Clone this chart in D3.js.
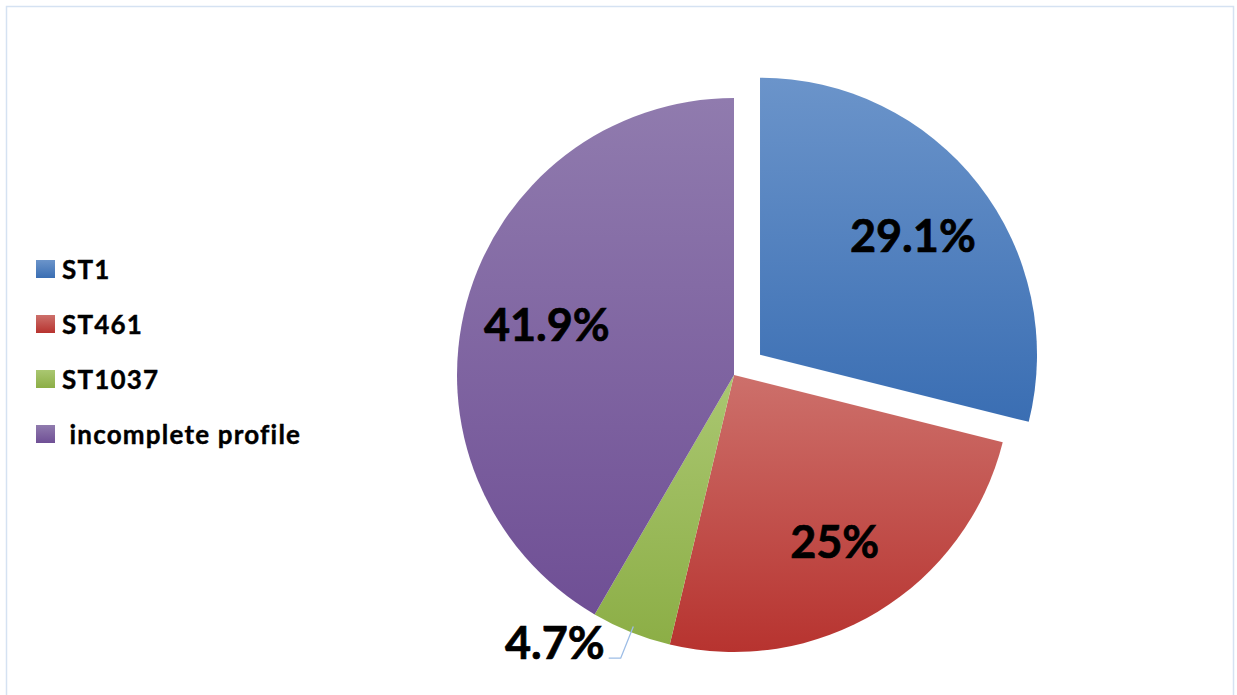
<!DOCTYPE html>
<html>
<head>
<meta charset="utf-8">
<script src="https://cdn.jsdelivr.net/npm/d3@7"></script>
<style>
  html, body { margin: 0; padding: 0; background: #fff; }
  svg { display: block; }
  text { font-family: Lato, "Liberation Sans", sans-serif; font-weight: 700; fill: #000; white-space: pre; }
</style>
</head>
<body>
<svg id="chart" width="1237" height="695"></svg>
<script>
// Sequence types and their shares (percent)
const categories = ["ST1", "ST461", "ST1037", " incomplete profile"];
const shares = [29.1, 25, 4.7, 41.9];
const shareLabels = ["29.1%", "25%", "4.7%", "41.9%"];
// slice fills: [light top, dark bottom]
const fillStops = [
  ["#6b94ca", "#3a6eb3"],
  ["#cd706b", "#b7332f"],
  ["#aac771", "#8cae46"],
  ["#907bae", "#6f4f95"]
];
const explodedIndex = 0;

const W = 1237, H = 695;
const cx = 734, cy = 375, R = 277, explode = 33;

const svg = d3.select("#chart");
const defs = svg.append("defs");
fillStops.forEach((s, i) => {
  const g = defs.append("linearGradient")
    .attr("id", "grad" + i)
    .attr("x1", 0).attr("y1", 0).attr("x2", 0).attr("y2", 1);
  g.append("stop").attr("offset", "0%").attr("stop-color", s[0]);
  g.append("stop").attr("offset", "100%").attr("stop-color", s[1]);
});

// chart frame
svg.append("rect")
  .attr("x", 6.5).attr("y", 6.5)
  .attr("width", 1227).attr("height", 700)
  .attr("fill", "none")
  .attr("stroke", "#d5e2f2")
  .attr("stroke-width", 1.5);

const pie = d3.pie().sort(null).value(d => d)(shares);
const arc = d3.arc().innerRadius(0).outerRadius(R);

const offsetOf = (d, i) => {
  if (i !== explodedIndex) return [0, 0];
  const a = (d.startAngle + d.endAngle) / 2;
  return [Math.sin(a) * explode, -Math.cos(a) * explode];
};

const g = svg.append("g").attr("transform", `translate(${cx},${cy})`);

const slices = g.selectAll("g.slice").data(pie).join("g")
  .attr("class", "slice")
  .attr("transform", (d, i) => {
    const o = offsetOf(d, i);
    return `translate(${o[0]},${o[1]})`;
  });

slices.append("path")
  .attr("d", arc)
  .attr("fill", (d, i) => `url(#grad${i})`);

// value labels: inside for wide slices, outside with a leader for thin ones
const labelArc = d3.arc().innerRadius(R * 0.7).outerRadius(R * 0.7);
const valueText = sel => sel
  .attr("dominant-baseline", "central")
  .attr("font-size", 45)
  .attr("stroke", "#000")
  .attr("stroke-width", 0.7);
slices.each(function(d, i) {
  const sel = d3.select(this);
  const span = d.endAngle - d.startAngle;
  if (span > 0.5) {
    const c = labelArc.centroid(d);
    sel.append("text")
      .attr("x", c[0]).attr("y", c[1])
      .attr("text-anchor", "middle")
      .call(valueText)
      .text(shareLabels[i]);
  } else {
    const a = (d.startAngle + d.endAngle) / 2;
    const p0 = [Math.sin(a) * (R - 6), -Math.cos(a) * (R - 6)];
    const p1 = [Math.sin(a) * (R + 28), -Math.cos(a) * (R + 28)];
    const side = Math.sin(a) >= 0 ? 1 : -1;
    const p2 = [p1[0] + side * 12, p1[1]];
    sel.append("polyline")
      .attr("points", [p0, p1, p2].map(p => p.join(",")).join(" "))
      .attr("fill", "none")
      .attr("stroke", "#9dbde6")
      .attr("stroke-width", 1.3);
    sel.append("text")
      .attr("x", p2[0] + side * 4).attr("y", p2[1] - 16)
      .attr("text-anchor", side > 0 ? "start" : "end")
      .call(valueText)
      .text(shareLabels[i]);
  }
});

// legend
const legend = svg.append("g").attr("transform", "translate(36,269)");
const rows = legend.selectAll("g").data(categories).join("g")
  .attr("transform", (d, i) => `translate(0,${i * 55})`);
rows.append("rect")
  .attr("x", 0).attr("y", -9)
  .attr("width", 19).attr("height", 18)
  .attr("fill", (d, i) => `url(#grad${i})`);
rows.append("text")
  .attr("x", 26).attr("y", 0)
  .attr("dominant-baseline", "central")
  .attr("font-size", 26)
  .attr("letter-spacing", 1.2)
  .attr("stroke", "#000")
  .attr("stroke-width", 0.4)
  .text(d => d);
</script>
</body>
</html>
